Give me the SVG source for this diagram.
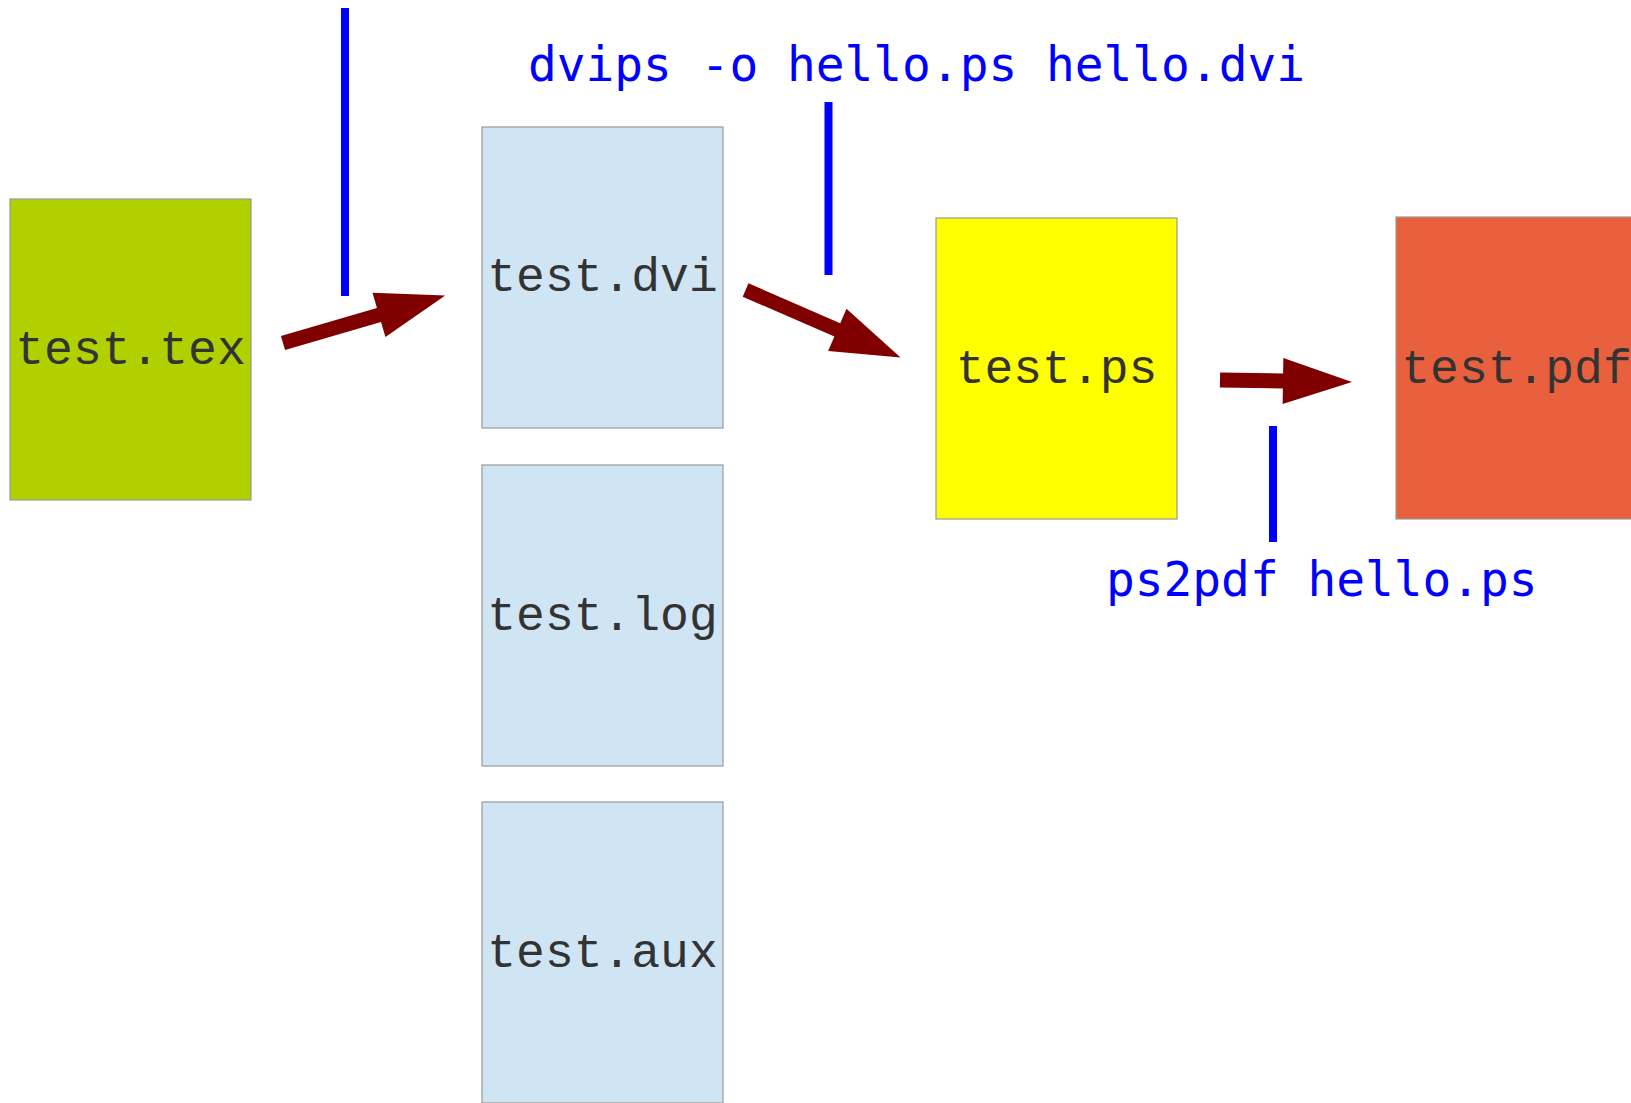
<svg xmlns="http://www.w3.org/2000/svg" width="1631" height="1103" viewBox="0 0 1631 1103">
<style>
.box{stroke:#999999;stroke-width:1.2}
.lbl{font-family:"Liberation Mono","Courier New",monospace;font-size:48px;fill:#333333;text-anchor:middle}
.cmd{font-family:"DejaVu Sans Mono",monospace;fill:#0000ff}
.bar{stroke:#0000ff;stroke-width:8}
.arrow{fill:#800000}
</style>
<rect width="1631" height="1103" fill="#ffffff"/>
<g id="node-tex">
<rect class="box" x="10" y="199" width="241" height="301" fill="#b0d000"/>
<text class="lbl" x="130.5" y="364">test.tex</text>
</g>
<g id="node-dvi">
<rect class="box" x="482" y="127" width="241" height="301" fill="#cfe5f3"/>
<text class="lbl" x="602.5" y="291">test.dvi</text>
</g>
<g id="node-log">
<rect class="box" x="482" y="465" width="241" height="301" fill="#cfe5f3"/>
<text class="lbl" x="602.5" y="629.5">test.log</text>
</g>
<g id="node-aux">
<rect class="box" x="482" y="802" width="241" height="301" fill="#cfe5f3"/>
<text class="lbl" x="602.5" y="966.5">test.aux</text>
</g>
<g id="node-ps">
<rect class="box" x="936" y="218" width="241" height="301" fill="#ffff00"/>
<text class="lbl" x="1056.5" y="382.5">test.ps</text>
</g>
<g id="node-pdf">
<rect class="box" x="1396" y="217" width="241" height="302" fill="#e9603f"/>
<text class="lbl" x="1516.5" y="382.5">test.pdf</text>
</g>
<g id="connectors">
<polygon class="arrow" transform="translate(283,343) rotate(-16.3)" points="0,-7.3 100,-7.3 100,-23 169,0 100,23 100,7.3 0,7.3"/>
<polygon class="arrow" transform="translate(745.6,290) rotate(23.5)" points="0,-7.3 100,-7.3 100,-23 169,0 100,23 100,7.3 0,7.3"/>
<polygon class="arrow" transform="translate(1220,380) rotate(0.9)" points="0,-7.5 63,-7.5 63,-23 132,0 63,23 63,7.5 0,7.5"/>
<line class="bar" x1="345" y1="8" x2="345" y2="296"/>
<line class="bar" x1="828.5" y1="102" x2="828.5" y2="275"/>
<line class="bar" x1="1273" y1="426" x2="1273" y2="542"/>
</g>
<g id="labels">
<text class="cmd" x="528" y="81" font-size="47.8">dvips -o hello.ps hello.dvi</text>
<text class="cmd" x="1106" y="596" font-size="47.8">ps2pdf hello.ps</text>
</g>
</svg>
